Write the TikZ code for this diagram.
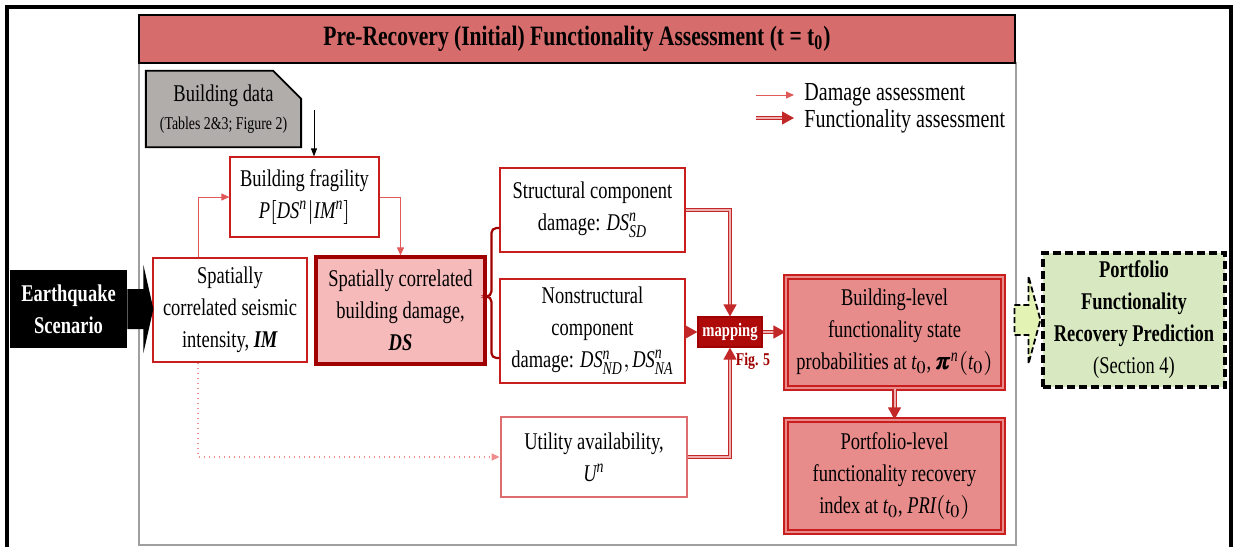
\documentclass[tikz,border=0pt]{standalone}
\usepackage{amsmath}
\usepackage{mathptmx}
\usepackage{fontspec}
\setmainfont{Liberation Serif}[FakeStretch=0.77]
\usetikzlibrary{arrows.meta,calc,shapes.misc}
\definecolor{titlefill}{RGB}{214,108,108}
\definecolor{boxred}{RGB}{200,30,30}
\definecolor{dkred}{RGB}{160,0,0}
\definecolor{dsfill}{RGB}{246,186,186}
\definecolor{blfill}{RGB}{231,139,139}
\definecolor{dmgred}{RGB}{225,90,90}
\definecolor{funcred}{RGB}{195,40,40}
\definecolor{funcin}{RGB}{240,175,175}
\definecolor{mapfill}{RGB}{175,10,10}
\definecolor{gfill}{RGB}{216,232,192}
\definecolor{garrow}{RGB}{226,243,180}
\definecolor{bdfill}{RGB}{176,173,171}
\definecolor{utred}{RGB}{222,110,110}
\definecolor{dotred}{RGB}{240,140,140}
\newcommand{\vi}[1]{\textit{#1}}
\tikzset{
  txt/.style={align=center, font=\fontsize{12}{16}\selectfont, inner sep=0pt},
  thinbox/.style={txt, draw=boxred, line width=0.6pt, fill=white},
  dmg/.style={draw=dmgred, line width=0.5pt, -{Triangle[length=4pt,width=3.5pt]}},
  func/.style={draw=funcred, line width=0.6pt, double=funcin, double distance=1pt, -{Triangle[length=6pt,width=6.5pt]}},
  fbox/.style={txt, draw=boxred, line width=0.6pt, double=blfill, double distance=1.4pt, fill=blfill},
  brace/.style={draw=dkred, line width=1.1pt, rounded corners=2.5pt},
}
\begin{document}
\begin{tikzpicture}[x=0.5pt,y=-0.5pt]
\useasboundingbox (0,0) rectangle (1235,546);
\clip (0,0) rectangle (1235,546);
\draw[line width=1.6pt] (7,7) rectangle (1231,600);
\draw[draw=gray!75, line width=0.7pt] (139,63) rectangle (1016,545);
\node[draw=black, line width=0.8pt, fill=titlefill, minimum width=438pt, minimum height=24pt, inner sep=0pt,
  font=\bfseries\fontsize{14}{16}\selectfont] (title) at (577,39)
  {Pre-Recovery (Initial) Functionality Assessment (t = t\textsubscript{0})};
% building data
\node[txt, draw=black, line width=0.9pt, fill=bdfill, chamfered rectangle, chamfered rectangle corners=north east,
  chamfered rectangle sep=7pt, minimum width=77.5pt, minimum height=33pt] (bdata) at (223.5,109)
  {Building data\\[-2pt]{\fontsize{9}{11}\selectfont (Tables 2\&3; Figure 2)}};
\coordinate (bdsrc) at (314,110);
% main nodes
\node[thinbox, minimum width=74.5pt, minimum height=40pt] (frag) at (304.5,197)
  {Building fragility\\ $\vi{P}[\vi{DS}^{\vi{n}}|\vi{IM}^{\vi{n}}]$};
\node[thinbox, minimum width=77pt, minimum height=52pt] (im) at (230,310)
  {Spatially\\ correlated seismic\\ intensity, \textbf{\textit{IM}}};
\node[txt, draw=dkred, line width=1.6pt, fill=dsfill, minimum width=84.5pt, minimum height=53.5pt] (ds) at (400.5,310.5)
  {Spatially correlated\\ building damage,\\ \textbf{\textit{DS}}};
\node[thinbox, minimum width=92.5pt, minimum height=42pt] (sd) at (592.5,210)
  {Structural component\\ damage: $\vi{DS}^{\vi{n}}_{\vi{SD}}$};
\node[thinbox, minimum width=92.5pt, minimum height=52pt] (nd) at (592.5,331)
  {Nonstructural\\ component\\ damage: $\vi{DS}^{\vi{n}}_{\vi{ND}}, \vi{DS}^{\vi{n}}_{\vi{NA}}$};
\node[txt, draw=utred, line width=1.4pt, fill=white, minimum width=93pt, minimum height=40pt] (ut) at (594,457)
  {Utility availability,\\ $\vi{U}^{\vi{n}}$};
\node[draw=dkred, line width=0.6pt, fill=mapfill, text=white, inner sep=0pt, minimum width=32pt, minimum height=15pt,
  font=\bfseries\fontsize{9.5}{11}\selectfont] (map) at (730,332) {mapping};
\node[text=dkred, inner sep=0pt, font=\bfseries\fontsize{9}{11}\selectfont] (fig5) at (753,361) {Fig. 5};
\node[fbox, minimum width=108.5pt, minimum height=55.5pt] (bl) at (894.5,332.5)
  {Building-level\\ functionality state\\ probabilities at $\vi{t}_0$, $\pmb{\pi}^{\vi{n}}(\vi{t}_0)$};
\node[fbox, minimum width=108.5pt, minimum height=56pt] (pl) at (894.5,476)
  {Portfolio-level\\ functionality recovery\\ index at $\vi{t}_0$, $\vi{PRI}(\vi{t}_0)$};
\node[txt, fill=black, text=white, font=\bfseries\fontsize{12}{16}\selectfont, minimum width=58.5pt, minimum height=39pt] (eq) at (68.5,309)
  {Earthquake\\ Scenario};
\node[txt, draw=black, dashed, dash pattern=on 4pt off 2pt, line width=1.6pt, fill=gfill, minimum width=91pt, minimum height=67pt] (pf) at (1134,320)
  {\textbf{Portfolio}\\ \textbf{Functionality}\\ \textbf{Recovery Prediction}\\ (Section 4)};
% big black arrow
\fill[black] ($(eq.east)+(0,-20)$) -- ++(16,0) -- ++(0,-24) -- ++(10,44) -- ++(-10,44) -- ++(0,-24) -- ++(-16,0) -- cycle;
% hollow green arrow
\draw[black, dash pattern=on 3pt off 1.5pt, line width=0.9pt, fill=garrow, line join=miter]
  ($(pf.west)+(-27,-15)$) -- ++(14,0) -- ++(0,-29) -- ++(12,44) -- ++(-12,44) -- ++(0,-29) -- ++(-14,0) -- cycle;
% connectors
\coordinate (xim) at (198,0);
\draw[line width=0.4pt, -{Triangle[length=4pt,width=3pt]}] (bdsrc) -- (bdsrc |- frag.north);
\draw[dmg] (im.north -| xim) |- (frag.west);
\draw[dmg] (frag.east) -| (ds.north);
\draw[dmg, draw=dotred, dotted, line width=0.7pt] (im.south -| xim) |- (ut.west);
\draw[brace] ([yshift=-9pt]sd.west) -- ++(-8,0) |- ([yshift=7pt]ds.east);
\draw[brace] ([yshift=-13.5pt]nd.west) -- ++(-8,0) |- ([yshift=7pt]ds.east);
\draw[func] (sd.east) -| (map.north);
\draw[func] (nd.east |- map.west) -- (map.west);
\draw[func] (ut.east) -| (map.south);
\draw[func] (map.east) -- (bl.west |- map.east);
\draw[func] (bl.south) -- (pl.north);
% legend
\coordinate (la) at (756,95);
\coordinate (lb) at (794,95);
\coordinate (lc) at (756,118);
\coordinate (ld) at (794,118);
\draw[dmg] (la) -- (lb);
\draw[func] (lc) -- (ld);
\node[txt, anchor=west, font=\fontsize{13}{16}\selectfont] (lt1) at (804,95) {Damage assessment};
\node[txt, anchor=west, font=\fontsize{13}{16}\selectfont] (lt2) at (804,121) {Functionality assessment};
\end{tikzpicture}
\end{document}
